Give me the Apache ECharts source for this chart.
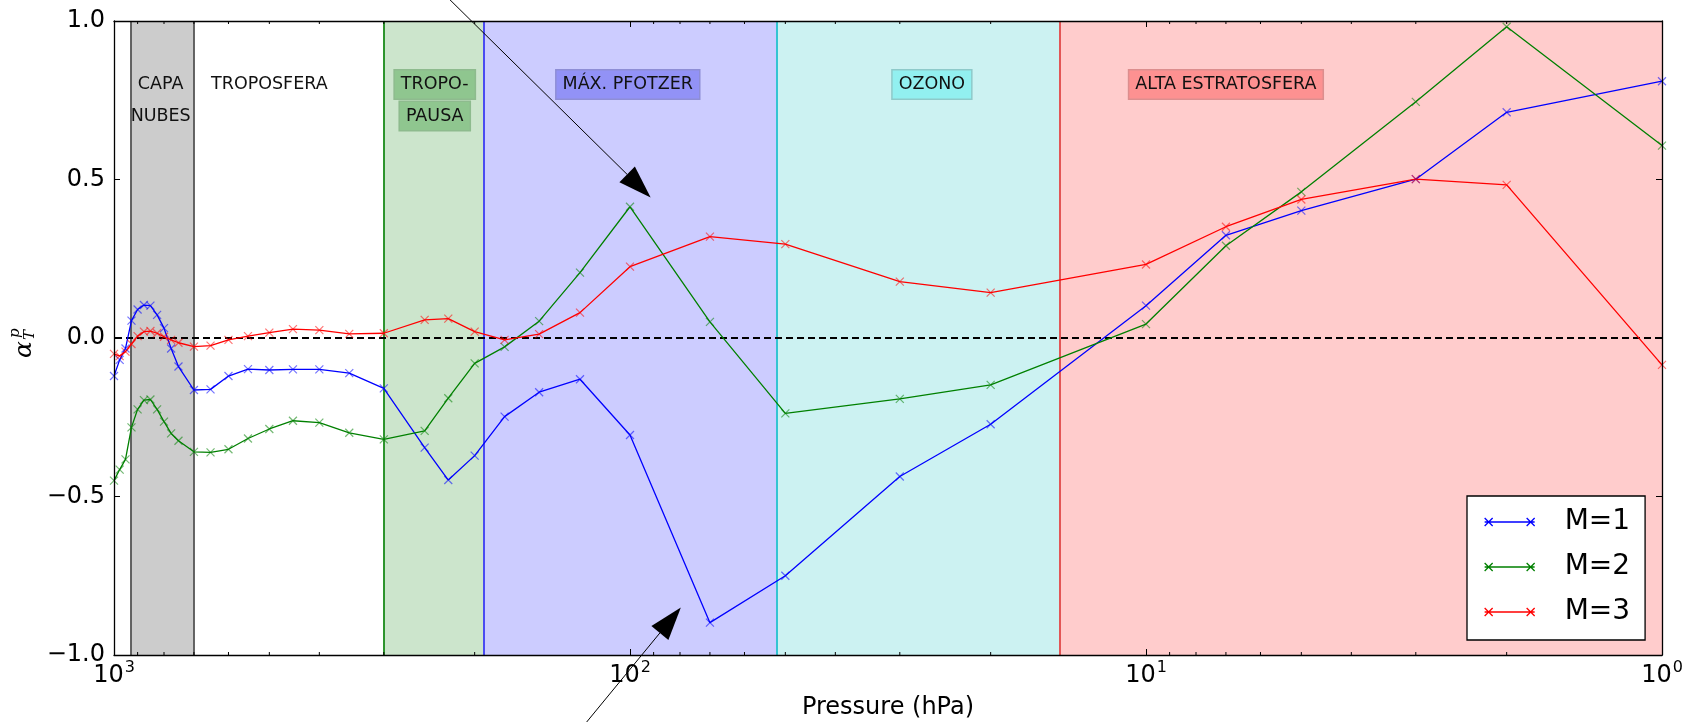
<!DOCTYPE html>
<html>
<head>
<meta charset="utf-8">
<script src="https://cdn.jsdelivr.net/npm/echarts@6/dist/echarts.min.js"></script>
<style>
  html, body { margin: 0; padding: 0; background: #ffffff; }
  #chart { width: 1694px; height: 722px; }
</style>
</head>
<body>
<div id="chart"></div>
<script>
// Pressure levels (hPa)
const pressures = [1000, 975, 950, 925, 900, 875, 850, 825, 800, 775, 750, 700, 650, 600, 550, 500,
  450, 400, 350, 300, 250, 225, 200, 175, 150, 125, 100, 70, 50, 30, 20, 10, 7, 5, 3, 2, 1];

// alpha_T^p for each mode
const m1 = [-0.120, -0.069, -0.033, 0.055, 0.090, 0.104, 0.102, 0.073, 0.031, -0.033, -0.090,
  -0.164, -0.162, -0.120, -0.098, -0.101, -0.099, -0.099, -0.111, -0.159,
  -0.346, -0.448, -0.371, -0.248, -0.171, -0.130, -0.306,
  -0.898, -0.750, -0.437, -0.272, 0.102, 0.324, 0.402, 0.501, 0.712, 0.810];
const m2 = [-0.450, -0.415, -0.383, -0.282, -0.225, -0.196, -0.194, -0.225, -0.264, -0.301, -0.324,
  -0.359, -0.361, -0.351, -0.317, -0.287, -0.261, -0.267, -0.299, -0.320,
  -0.293, -0.190, -0.080, -0.028, 0.053, 0.206, 0.414,
  0.051, -0.238, -0.192, -0.148, 0.044, 0.291, 0.461, 0.745, 0.982, 0.607];
const m3 = [-0.050, -0.057, -0.043, -0.019, 0.006, 0.020, 0.022, 0.015, 0.004, -0.006, -0.015,
  -0.027, -0.024, -0.006, 0.006, 0.017, 0.028, 0.025, 0.013, 0.015,
  0.057, 0.061, 0.020, -0.006, 0.012, 0.080, 0.225,
  0.320, 0.296, 0.178, 0.143, 0.232, 0.351, 0.437, 0.501, 0.483, -0.085];

const seriesNames = ['M=1', 'M=2', 'M=3'];
const seriesValues = [m1, m2, m3];

// Atmospheric layers, bounded in pressure (hPa)
const layerBounds = [[928, 700], [300, 192], [192, 52], [52, 14.7], [14.7, 1]];
// Layer boundary lines (hPa)
const boundaryLevels = [928, 700, 300, 192, 52, 14.7];

// Layer names, with the pressure / value where each name sits
const layerNames = ['CAPA', 'NUBES', 'TROPOSFERA', 'TROPO-', 'PAUSA', 'MÁX. PFOTZER', 'OZONO', 'ALTA ESTRATOSFERA'];
const layerNameAnchors = [[812, 0.8], [812, 0.7], [500, 0.8], [239, 0.8], [239, 0.7], [101, 0.8], [26, 0.8], [7, 0.8]];

// Annotation arrows: [tail, tip] in (hPa, value)
const arrowAnchors = [
  [[233.5, 1.098], [91.2, 0.443]],
  [[125, -1.237], [79.7, -0.850]]
];

// ---- styling ----
const FONT = '"DejaVu Sans", "Liberation Sans", sans-serif';
const lineColors = ['#0000ff', '#008000', '#ff0000'];
const markerColors = ['rgba(0,0,255,0.55)', 'rgba(0,128,0,0.55)', 'rgba(255,0,0,0.55)'];
const layerFills = ['#cccccc', '#cce5cc', '#ccccff', '#ccf2f2', '#ffcccc'];
const boundaryColors = ['#555555', '#555555', '#1a8a1a', '#3b3bf2', '#22bfcf', '#e04848'];
const nameBoxes = [null, null, null, '#8fc68f', '#8fc68f', '#9292f6', '#92f0f0', '#fd9191'];
const nameBoxBorders = [null, null, null, 'rgba(0,90,0,0.3)', 'rgba(0,90,0,0.3)', 'rgba(0,0,120,0.3)', 'rgba(0,110,110,0.3)', 'rgba(140,0,0,0.3)'];

const minorTicks = [];
[1, 10, 100].forEach(function (d) { for (let k = 2; k <= 9; k++) minorTicks.push(k * d); });

const X_MARK = 'path://M0,0L8,8M0,8L8,0';
const LEGEND_ICON = 'path://M0,4L50,4M0,0L8,8M0,8L8,0M42,0L50,8M42,8L50,0';

function yFmt(v) {
  const s = Math.abs(v).toFixed(1);
  return v < 0 ? '\u2212' + s : s;
}

const chart = echarts.init(document.getElementById('chart'), null, { renderer: 'canvas' });

const logAxisBase = {
  type: 'log', logBase: 10, min: 1, max: 1000, inverse: true,
  splitNumber: 3, z: 20,
  axisLine: { show: true, onZero: false, lineStyle: { color: '#000', width: 1.3 } },
  axisTick: { show: true, inside: true, length: 6, lineStyle: { color: '#000', width: 1 } },
  splitLine: { show: false }, minorTick: { show: false }
};
const yAxisBase = {
  type: 'value', min: -1, max: 1, interval: 0.5, z: 20,
  axisLine: { show: true, onZero: false, lineStyle: { color: '#000', width: 1.3 } },
  axisTick: { show: true, inside: true, length: 6, lineStyle: { color: '#000', width: 1 } },
  splitLine: { show: false }
};

const dataSeries = seriesNames.map(function (name, i) {
  return {
    name: name, type: 'line', z: 5,
    xAxisIndex: 0, yAxisIndex: 0,
    data: pressures.map(function (p, j) { return [p, seriesValues[i][j]]; }),
    symbol: X_MARK, symbolSize: 8, showAllSymbol: true,
    itemStyle: { color: 'rgba(0,0,0,0)', borderColor: markerColors[i], borderWidth: 1.2 },
    lineStyle: { color: lineColors[i], width: 1.3 },
    emphasis: { disabled: true },
    animation: false
  };
});

const layerSeries = {
  name: 'layers', type: 'line', z: 1, silent: true,
  xAxisIndex: 0, yAxisIndex: 0,
  data: [],
  markArea: {
    silent: true,
    data: layerBounds.map(function (b, i) {
      return [{ xAxis: b[0], itemStyle: { color: layerFills[i], borderWidth: 0 } }, { xAxis: b[1] }];
    })
  },
  markLine: {
    silent: true, symbol: 'none', animation: false,
    label: { show: false },
    data: boundaryLevels.map(function (p, i) {
      return { xAxis: p, lineStyle: { color: boundaryColors[i], width: 1.8, type: 'solid' } };
    }).concat([{ yAxis: 0, lineStyle: { color: '#000', width: 1.9, type: [7, 4] } }])
  },
  markPoint: {
    silent: true, symbol: 'circle', symbolSize: 1,
    itemStyle: { color: 'rgba(0,0,0,0)' },
    data: layerNames.map(function (t, i) {
      const lab = {
        show: true, position: 'inside', formatter: t,
        fontFamily: FONT, fontSize: 17.5, color: '#111', lineHeight: 20
      };
      if (nameBoxes[i]) {
        lab.backgroundColor = nameBoxes[i];
        lab.borderColor = nameBoxBorders[i];
        lab.borderWidth = 1.5;
        lab.padding = [4, 6, 4, 6];
      }
      return { coord: layerNameAnchors[i], value: 0, label: lab };
    })
  },
  animation: false
};

const minorTickSeries = {
  name: 'minor', type: 'custom', z: 20, silent: true,
  xAxisIndex: 0, yAxisIndex: 0,
  data: minorTicks.map(function (v) { return [v, 0]; }),
  encode: { x: 0, y: 1 },
  renderItem: function (params, api) {
    const v = api.value(0);
    const b = api.coord([v, -1]);
    const t = api.coord([v, 1]);
    const st = { stroke: '#000', lineWidth: 1 };
    return {
      type: 'group', children: [
        { type: 'line', shape: { x1: b[0], y1: b[1], x2: b[0], y2: b[1] - 3 }, style: st },
        { type: 'line', shape: { x1: t[0], y1: t[1], x2: t[0], y2: t[1] + 3 }, style: st }
      ]
    };
  },
  animation: false
};

chart.setOption({
  animation: false,
  backgroundColor: '#ffffff',
  textStyle: { fontFamily: FONT },
  grid: { left: 114, right: 32, top: 21, bottom: 67, containLabel: false, outerBoundsMode: 'none' },
  xAxis: [
    Object.assign({}, logAxisBase, {
      position: 'bottom',
      name: 'Pressure (hPa)', nameLocation: 'middle', nameGap: 41,
      nameTextStyle: { fontFamily: FONT, fontSize: 24, color: '#000' },
      axisLabel: {
        show: true, margin: 5, color: '#000',
        formatter: function (v) {
          return '{b|10}{s|' + Math.round(Math.log10(v)) + '}';
        },
        rich: {
          b: { fontFamily: FONT, fontSize: 24, color: '#000', lineHeight: 28, verticalAlign: 'bottom' },
          s: { fontFamily: FONT, fontSize: 16, color: '#000', lineHeight: 16, verticalAlign: 'top', padding: [0, 0, 0, 1] }
        }
      }
    }),
    Object.assign({}, logAxisBase, { position: 'top', axisLabel: { show: false } })
  ],
  yAxis: [
    Object.assign({}, yAxisBase, {
      position: 'left',
      axisLabel: { show: true, margin: 9, fontFamily: FONT, fontSize: 24, color: '#000', formatter: yFmt }
    }),
    Object.assign({}, yAxisBase, { position: 'right', axisLabel: { show: false } })
  ],
  legend: {
    data: seriesNames.map(function (n, i) {
      return { name: n, itemStyle: { color: 'rgba(0,0,0,0)', borderColor: lineColors[i], borderWidth: 1.3 } };
    }),
    icon: LEGEND_ICON,
    orient: 'vertical', left: 1467, top: 496, z: 30,
    itemWidth: 50, itemHeight: 8, itemGap: 15,
    selectedMode: false,
    backgroundColor: '#ffffff', borderColor: '#000', borderWidth: 1.3, borderRadius: 0,
    padding: [11, 15, 13, 17],
    textStyle: { fontFamily: FONT, fontSize: 28, lineHeight: 30, color: '#000', padding: [0, 0, 0, 25] }
  },
  series: [layerSeries].concat(dataSeries).concat([minorTickSeries])
});

// Arrows and the rotated y-axis title
function arrowElements(tail, tip) {
  const a = chart.convertToPixel({ seriesIndex: 1 }, tail);
  const b = chart.convertToPixel({ seriesIndex: 1 }, tip);
  const dx = b[0] - a[0], dy = b[1] - a[1];
  const len = Math.sqrt(dx * dx + dy * dy);
  const ux = dx / len, uy = dy / len;
  const headLen = 33, headHalf = 11;
  const bx = b[0] - ux * headLen, by = b[1] - uy * headLen;
  return [
    { type: 'line', z: 40, silent: true,
      shape: { x1: a[0], y1: a[1], x2: bx, y2: by },
      style: { stroke: '#000', lineWidth: 1 } },
    { type: 'polygon', z: 40, silent: true,
      shape: { points: [[b[0], b[1]], [bx - uy * headHalf, by + ux * headHalf], [bx + uy * headHalf, by - ux * headHalf]] },
      style: { fill: '#000' } }
  ];
}

let graphics = [];
arrowAnchors.forEach(function (ar) { graphics = graphics.concat(arrowElements(ar[0], ar[1])); });
graphics.push({
  type: 'group', x: 24, y: 337, rotation: Math.PI / 2, z: 40, silent: true,
  children: [
    { type: 'text', x: -4, y: 0, style: { text: 'α', fontFamily: '"DejaVu Serif", serif', fontStyle: 'italic', fontSize: 25, fill: '#000', align: 'right', verticalAlign: 'middle' } },
    { type: 'text', x: -3, y: 6, style: { text: 'T', fontFamily: '"DejaVu Serif", serif', fontStyle: 'italic', fontSize: 15, fill: '#000', align: 'left', verticalAlign: 'middle' } },
    { type: 'text', x: -1, y: -9, style: { text: 'p', fontFamily: '"DejaVu Serif", serif', fontStyle: 'italic', fontSize: 15, fill: '#000', align: 'left', verticalAlign: 'middle' } }
  ]
});
chart.setOption({ graphic: graphics });
</script>
</body>
</html>
